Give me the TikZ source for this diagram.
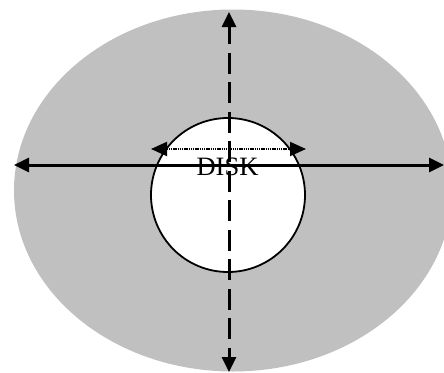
\documentclass[tikz,border=0pt]{standalone}
\usepackage{fontspec}
\setmainfont{Liberation Serif}
\usetikzlibrary{arrows.meta}
\definecolor{diskgray}{RGB}{192,192,192}
\tikzset{
  tip/.style={{Triangle[length=15pt,width=14pt]}-{Triangle[length=15pt,width=14pt]}},
  axisline/.style={line width=3pt,tip},
  dashaxis/.style={line width=3pt,tip,dash pattern=on 21pt off 8.5pt,dash phase=3pt},
  dotline/.style={line width=2pt,dash pattern=on 1.5pt off 0.7pt,{Triangle[length=16pt,width=14pt]}-{Triangle[length=16pt,width=14pt]}},
  disk/.style={circle,draw,line width=1.8pt,fill=white,minimum size=154pt,inner sep=0pt},
  lbl/.style={font=\fontsize{26.5pt}{30pt}\selectfont,inner sep=0pt}
}
\begin{document}
\begin{tikzpicture}[x=1pt,y=-1pt]
\useasboundingbox (0,0) rectangle (444,372);
\begin{scope}
\clip (0,0) rectangle (444,372);
\fill[diskgray] (233,190.5) ellipse [x radius=219, y radius=181];
\end{scope}
\node[disk] (d) at (228,195) {};
\coordinate (hl) at (14,165);
\coordinate (hr) at (444,165);
\coordinate (vt) at (229,12);
\coordinate (vb) at (229,372);
\coordinate (dl) at (151,149);
\coordinate (dr) at (306,149);
\draw[axisline] (hl) -- (hr);
\draw[dashaxis] (vt) -- (vb);
\draw[dotline] (dl) -- (dr);
\node[lbl,anchor=base] (t) at (227.5,175) {DISK};
\end{tikzpicture}
\end{document}
